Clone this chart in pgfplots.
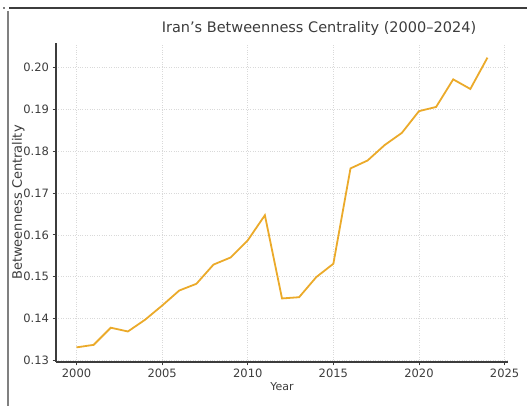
\documentclass[border=0pt]{standalone}
\usepackage{pgfplots}
\pgfplotsset{compat=1.18}
\usepackage{fontspec}
\setmainfont{DejaVu Sans}
\definecolor{lineorange}{RGB}{235,170,42}
\definecolor{spinegray}{RGB}{60,60,60}
\begin{document}
\begin{tikzpicture}[x=1pt,y=1pt]
\useasboundingbox (0,0) rectangle (527,406);
% screenshot frame
\draw[spinegray, line width=1.8pt] (9,398) -- (527,398);
\draw[gray, line width=1.2pt] (8,395) -- (8,0);
\fill[gray] (2.5,396.8) rectangle (4.5,399);
\begin{axis}[
  at={(56pt,44pt)}, anchor=south west,
  scale only axis,
  width=452pt, height=319pt,
  xmin=1998.8, xmax=2025.2,
  ymin=0.1296, ymax=0.2059,
  axis x line*=bottom,
  axis y line*=left,
  axis line style={spinegray, line width=1.2pt, -},
  xtick={2000,2005,...,2025},
  ytick={0.13,0.14,...,0.205},
  xticklabel style={/pgf/number format/1000 sep={}},
  yticklabel style={/pgf/number format/.cd, fixed, fixed zerofill, precision=2},
  /pgf/number format/assume math mode=true,
  tick label style={font=\fontsize{11.5}{13}\selectfont, text=spinegray},
  tick style={spinegray, line width=0.8pt},
  tick align=outside,
  major tick length=3.5pt,
  grid=major,
  major grid style={gray!30, dotted, line width=0.7pt},
  xlabel={Year},
  ylabel={Betweenness Centrality},
  label style={text=spinegray},
  xlabel style={font=\fontsize{11}{13}\selectfont, yshift=2pt},
  ylabel style={font=\fontsize{13}{15}\selectfont, yshift=-8pt},
  title={Iran’s Betweenness Centrality (2000–2024)},
  title style={font=\fontsize{14.5}{16}\selectfont, text=spinegray, xshift=37pt, yshift=-2pt},
]
\addplot[lineorange, line width=1.8pt, mark=none] coordinates {
  (2000,0.1331) (2001,0.1337) (2002,0.1378) (2003,0.1369) (2004,0.1397)
  (2005,0.1431) (2006,0.1467) (2007,0.1483) (2008,0.1529) (2009,0.1546)
  (2010,0.1587) (2011,0.1647) (2012,0.1448) (2013,0.1451) (2014,0.1499)
  (2015,0.1531) (2016,0.1759) (2017,0.1778) (2018,0.1815) (2019,0.1844)
  (2020,0.1896) (2021,0.1906) (2022,0.1972) (2023,0.1949) (2024,0.2024)
};
\end{axis}
\end{tikzpicture}
\end{document}
